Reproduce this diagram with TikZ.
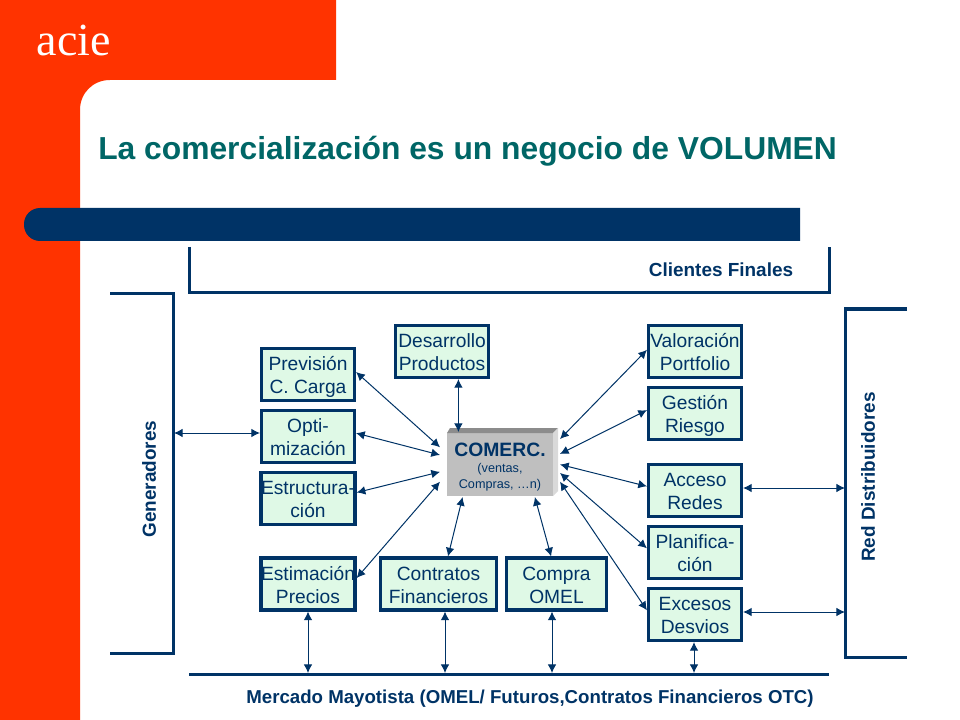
\documentclass[tikz,border=0pt]{standalone}
\usepackage{fontspec}
\setmainfont{Liberation Sans}
\newfontfamily\logofont{Liberation Serif}
\usetikzlibrary{arrows.meta}
\definecolor{naranja}{HTML}{FF3300}
\definecolor{azul}{HTML}{003366}
\definecolor{verdeT}{HTML}{006666}
\definecolor{verdeC}{HTML}{DFF9E6}
\tikzset{
    caja/.style={draw=azul, line width=2.6pt, fill=verdeC, text=azul, align=center,
        inner sep=0pt, minimum width=69.5pt, minimum height=38.75pt,
        font=\fontsize{14.4}{17.25}\selectfont, text height=32.6pt, text depth=3.8pt},
    marco/.style={draw=azul, line width=2.25pt},
    flecha/.style={draw=azul, line width=0.75pt, {Latex[length=6.5pt,width=6.5pt]}-{Latex[length=6.5pt,width=6.5pt]}},
    rotulo/.style={text=azul, inner sep=0pt, font=\fontsize{14.2}{16}\selectfont\bfseries}
}
\begin{document}
\begin{tikzpicture}[x=0.75pt, y=-0.75pt]
    \useasboundingbox (0,0) rectangle (960,720);

    % Fondo y barra
    \fill[naranja] (0,0) -- (336,0) -- (336,80) -- (110,80)
        .. controls (93,80) and (80,93) .. (80,110) -- (80,720) -- (0,720) -- cycle;
    \fill[azul] (800,241) -- (800,208) [rounded corners=12pt] -- (24,208) -- (24,241) [sharp corners] -- cycle;
    \node[text=white, inner sep=0pt, font=\fontsize{34.5}{40}\logofont] (logo) at (74,40) {acie};
    \node[text=verdeT, anchor=base west, inner sep=0pt, font=\fontsize{23.85}{28}\selectfont\bfseries] (titulo) at (98,160)
        {La comercialización es un negocio de VOLUMEN};

    % Marcos exteriores
    \draw[marco] (189,247) -- (189,293) -- (829,293) -- (829,247);
    \draw[marco] (110,294) -- (173,294) -- (173,653) -- (110,653);
    \draw[marco] (907,309) -- (845,309) -- (845,657) -- (907,657);
    \draw[marco] (189,674) -- (829,674);

    % Rotulos de los marcos
    \node[rotulo] (clientes) at (721,270) {Clientes Finales};
    \node[rotulo, font=\fontsize{14}{16}\selectfont\bfseries] (mercado) at (530,699) {Mercado Mayotista (OMEL/ Futuros,Contratos Financieros OTC)};
    \node[rotulo, rotate=90] (generadores) at (149,479) {Generadores};
    \node[rotulo, rotate=90] (red) at (868,477) {Red Distribuidores};

    % Puntos de llegada en los marcos
    \coordinate (mGen) at (174,433);
    \coordinate (mAcc) at (845,488);
    \coordinate (mExc) at (845,612);
    \coordinate (bEst) at (308,673);
    \coordinate (bCon) at (445,673);
    \coordinate (bCom) at (552,673);
    \coordinate (bExc) at (694,673);

    % Cajas de la izquierda
    \node[caja] (prev) at (308,374.5) {Previsión\\C. Carga};
    \node[caja] (opti) at (308,436.5) {Opti-\\mización};
    \node[caja] (estr) at (308,498.5) {Estructura-\\ción};
    \node[caja] (esti) at (308,584) {Estimación\\Precios};

    % Cajas del centro
    \node[caja] (desa) at (442,351.5) {Desarrollo\\Productos};
    \node[caja, minimum width=87pt] (cont) at (438.5,584) {Contratos\\Financieros};
    \node[caja, minimum width=75pt] (comp) at (556.5,584) {Compra\\OMEL};

    % Cajas de la derecha
    \node[caja] (valo) at (695,351.5) {Valoración\\Portfolio};
    \node[caja] (gest) at (695,413.5) {Gestión\\Riesgo};
    \node[caja] (acce) at (695,490.5) {Acceso\\Redes};
    \node[caja] (plan) at (695,552.5) {Planifica-\\ción};
    \node[caja] (exce) at (695,614.5) {Excesos\\Desvios};

    % Bloque central
    \node[fill=black!25, text=azul, align=center, inner sep=0pt, minimum width=79.5pt, minimum height=47.25pt,
        outer xsep=5.25pt, outer ysep=0.75pt, font=\fontsize{9.5}{12}\selectfont] (comerc) at (500,464.5)
        {\rule{0pt}{14.4pt}{\fontsize{14.5}{16}\selectfont\bfseries COMERC.}\\(ventas,\\Compras, …n)};
    \fill[black!45] (447,433) -- (450,428) -- (558,428) -- (553,433) -- cycle;
    \fill[black!15] (553,433) -- (558,428) -- (558,491) -- (553,496) -- cycle;

    % Flechas hacia el bloque central
    \draw[flecha] (prev.3) -- (comerc.164);
    \draw[flecha] (opti.4) -- (comerc.171);
    \draw[flecha] (estr.7) -- (comerc.187);
    \draw[flecha] (esti.7) -- (comerc.196);
    \draw[flecha] (comerc.142 |- desa.south) -- (comerc.142);
    \draw[flecha] (cont.71) -- (comerc.221);
    \draw[flecha] (comp.101) -- (comerc.317);
    \draw[flecha] (valo.178) -- (comerc.23);
    \draw[flecha] (gest.176) -- (comerc.10);
    \draw[flecha] (acce.175) -- (comerc.0);
    \draw[flecha] (plan.175) -- (comerc.-8);
    \draw[flecha] (exce.175) -- (comerc.-16);

    % Flechas hacia los marcos
    \draw[flecha] (mGen) -- (opti.west |- mGen);
    \draw[flecha] (acce.east |- mAcc) -- (mAcc);
    \draw[flecha] (exce.east |- mExc) -- (mExc);
    \draw[flecha] (bEst |- esti.south) -- (bEst);
    \draw[flecha] (bCon |- cont.south) -- (bCon);
    \draw[flecha] (bCom |- comp.south) -- (bCom);
    \draw[flecha] (bExc |- exce.south) -- (bExc);
\end{tikzpicture}
\end{document}
